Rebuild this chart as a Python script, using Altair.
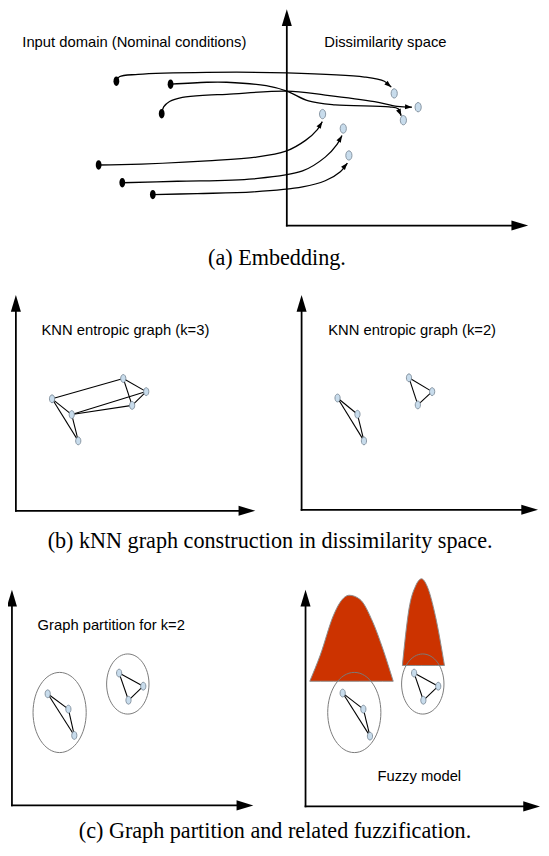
import math
import altair as alt
import pandas as pd

# ---------------- data (reference pixel coordinates) ----------------
# panel (a): embedding
src_x = [118, 173, 164, 100, 124, 155]
src_y = [76, 79, 109, 161, 179, 191]
dst_x = [400, 424.3, 409.3, 327.3, 348.3, 354]
dst_y = [88.3, 102.3, 115.5, 109.3, 124, 151.3]

curve_x = [
    [118, 121, 140, 210, 291, 370, 390, 397],
    [173, 210, 230, 270, 291, 313, 340, 395, 404, 407],
    [164, 166, 172, 185, 210, 230, 291, 330, 380, 403, 418],
    [100, 123, 210, 260, 290, 310, 322, 327],
    [124, 180, 257, 307, 330, 342, 347],
    [155, 200, 257, 307, 330, 345, 352.5],
]
curve_y = [
    [76, 71.5, 69, 67, 67.5, 71.7, 76, 82],
    [79, 77, 77, 80.5, 86, 96, 100, 102, 104, 111],
    [109, 102, 96.5, 92.3, 90, 89.3, 86, 90, 96.7, 101.5, 102.3],
    [161, 160.7, 156.7, 153, 147, 136, 125, 117],
    [179, 177.5, 175, 167, 153, 140, 131],
    [191, 190, 188.3, 183.3, 177, 168, 159],
]

# coordinate axes of the five panels
axis_ox = [291, 16, 306, 12, 310]
axis_oy = [222.5, 512, 511, 811, 812]
axis_top = [3, 293, 293, 592, 592]
axis_right = [536, 259, 546, 257, 548]

# graph nodes
knn3_x = [52.7, 125, 148.3, 134, 72.7, 79.3]
knn3_y = [398.3, 377.7, 391, 405, 414.3, 441]
knn3_edges = [(0, 1), (0, 4), (0, 5), (4, 5), (4, 2), (4, 3), (1, 2), (1, 3), (2, 3)]

knn2_x = [342.5, 415, 438.5, 424, 362.7, 369.3]
knn2_y = [397.5, 377, 391, 404.5, 414, 441]
pair_edges = [(0, 4), (0, 5), (4, 5), (1, 2), (1, 3), (2, 3)]

part_x = [48.3, 120.8, 145.3, 130.3, 69.3, 75.3]
part_y = [697.7, 676.7, 690, 704.3, 713.3, 740]

fuzzy_x = [347.7, 420.2, 444.7, 429.6, 368.7, 375.4]
fuzzy_y = [697, 676.7, 690, 704.3, 713.3, 740.7]

# cluster outlines (big / small)
big_cl_x = [60.4, 359.5]
big_cl_y = [716.7, 716.7]
small_cl_x = [129.6, 429]
small_cl_y = [687.8, 687.8]

# fuzzy membership hills
hill1_x = [314.3, 325, 338.3, 345, 354.3, 365, 378.3, 388.3, 399]
hill1_y = [685, 658.3, 618.3, 605, 597.7, 601.7, 625, 651.7, 685]
hill1_base = 685
hill2_x = [408.3, 415, 421.7, 427.7, 433.3, 441.7, 451]
hill2_y = [669, 611.7, 588.3, 581, 588.3, 618.3, 669]
hill2_base = 669

labels = ["Input domain (Nominal conditions)", "Dissimilarity space",
          "KNN entropic graph (k=3)", "KNN entropic graph (k=2)",
          "Graph partition for k=2", "Fuzzy model"]
label_x = [22.5, 329, 42, 333, 38, 383]
label_y = [41, 41, 334, 334, 633, 786]

captions = ["(a)  Embedding.",
            "(b)  kNN graph construction in dissimilarity space.",
            "(c)  Graph partition and related fuzzification."]
caption_x = [281, 274, 279]
caption_y = [262, 550, 844]

# ---------------- tables ----------------
rows = []
for ci, (xs_, ys_) in enumerate(zip(curve_x, curve_y)):
    for i, (x, y) in enumerate(zip(xs_, ys_)):
        rows.append({"c": ci, "i": i, "x": x, "y": y})
curves = pd.DataFrame(rows)


def heading(x0, y0, x1, y1):
    return math.degrees(math.atan2(x1 - x0, -(y1 - y0))) % 360


curve_tips = pd.DataFrame([
    {"x": xs_[-1], "y": ys_[-1], "ang": heading(xs_[-2], ys_[-2], xs_[-1], ys_[-1])}
    for xs_, ys_ in zip(curve_x, curve_y)
])

src = pd.DataFrame({"x": src_x, "y": src_y})
dst = pd.DataFrame({"x": dst_x, "y": dst_y})
nodes = pd.DataFrame({
    "x": knn3_x + knn2_x + part_x + fuzzy_x,
    "y": knn3_y + knn2_y + part_y + fuzzy_y,
})

seg = []
for ox, oy, top, right in zip(axis_ox, axis_oy, axis_top, axis_right):
    seg.append({"x": ox, "y": oy + 0.9, "x2": ox, "y2": top + 10})
    seg.append({"x": ox - 0.9, "y": oy, "x2": right - 10, "y2": oy})
axis_seg = pd.DataFrame(seg)

tips = []
for ox, oy, top, right in zip(axis_ox, axis_oy, axis_top, axis_right):
    tips.append({"x": ox, "y": top, "ang": 0})
    tips.append({"x": right, "y": oy, "ang": 90})
axis_tips = pd.DataFrame(tips)

edges = []
for gx, gy, el in [(knn3_x, knn3_y, knn3_edges), (knn2_x, knn2_y, pair_edges),
                   (part_x, part_y, pair_edges), (fuzzy_x, fuzzy_y, pair_edges)]:
    for a, b in el:
        edges.append({"x": gx[a], "y": gy[a], "x2": gx[b], "y2": gy[b]})
edges = pd.DataFrame(edges)

hills = pd.DataFrame(
    [{"h": 1, "x": x, "y": y, "b": hill1_base} for x, y in zip(hill1_x, hill1_y)] +
    [{"h": 2, "x": x, "y": y, "b": hill2_base} for x, y in zip(hill2_x, hill2_y)]
)

big_cl = pd.DataFrame({"x": big_cl_x, "y": big_cl_y})
small_cl = pd.DataFrame({"x": small_cl_x, "y": small_cl_y})
lab = pd.DataFrame({"t": labels, "x": label_x, "y": label_y})
cap = pd.DataFrame({"t": captions, "x": caption_x, "y": caption_y})

# ---------------- encodings ----------------
XS = alt.Scale(domain=[8, 549], nice=False, zero=False)
YS = alt.Scale(domain=[8, 856], nice=False, zero=False, reverse=True)
X = alt.X("x:Q", scale=XS, axis=None)
Y = alt.Y("y:Q", scale=YS, axis=None)


def ellipse(a):
    k = 0.5523
    return (f"M0,-1C{k*a:.3f},-1 {a:.3f},{-k:.3f} {a:.3f},0"
            f"C{a:.3f},{k:.3f} {k*a:.3f},1 0,1"
            f"C{-k*a:.3f},1 {-a:.3f},{k:.3f} {-a:.3f},0"
            f"C{-a:.3f},{-k:.3f} {-k*a:.3f},-1 0,-1Z")


BIG_ARROW = "M0,0L0.3,1L-0.3,1Z"
SMALL_ARROW = "M0,0L0.36,1L-0.36,1Z"

hill_layer = alt.Chart(hills).mark_area(
    color="#CC3300", stroke="#8c8c8c", strokeWidth=1, interpolate="monotone", opacity=1
).encode(x=X, y=Y, y2="b:Q", detail="h:N")

big_layer = alt.Chart(big_cl).mark_point(
    shape=ellipse(0.663), size=81.4 ** 2, filled=False, color="#7a7a7a", strokeWidth=1, opacity=1
).encode(x=X, y=Y)
small_layer = alt.Chart(small_cl).mark_point(
    shape=ellipse(0.705), size=61 ** 2, filled=False, color="#7a7a7a", strokeWidth=1, opacity=1
).encode(x=X, y=Y)

curve_layer = alt.Chart(curves).mark_line(
    color="black", strokeWidth=1.3, interpolate="catmull-rom"
).encode(x=X, y=Y, detail="c:N", order="i:Q")

curve_tip_layer = alt.Chart(curve_tips).mark_point(
    shape=SMALL_ARROW, size=196, filled=True, color="black", strokeWidth=0, opacity=1
).encode(x=X, y=Y, angle=alt.Angle("ang:Q", scale=None))

edge_layer = alt.Chart(edges).mark_rule(color="black", strokeWidth=1.1).encode(
    x=X, y=Y, x2="x2:Q", y2="y2:Q")

src_layer = alt.Chart(src).mark_point(
    shape=ellipse(0.62), size=90, filled=True, color="black", strokeWidth=0, opacity=1
).encode(x=X, y=Y)

dst_layer = alt.Chart(dst).mark_point(
    shape=ellipse(0.66), size=90, filled=True, fill="#C8DCEC", stroke="#7d8b99",
    strokeWidth=0.9, opacity=1
).encode(x=X, y=Y)

node_layer = alt.Chart(nodes).mark_point(
    shape=ellipse(0.66), size=64, filled=True, fill="#C8DCEC", stroke="#7d8b99",
    strokeWidth=0.9, opacity=1
).encode(x=X, y=Y)

axis_layer = alt.Chart(axis_seg).mark_rule(color="black", strokeWidth=1.8).encode(
    x=X, y=Y, x2="x2:Q", y2="y2:Q")

axis_tip_layer = alt.Chart(axis_tips).mark_point(
    shape=BIG_ARROW, size=1156, filled=True, color="black", strokeWidth=0, opacity=1
).encode(x=X, y=Y, angle=alt.Angle("ang:Q", scale=None))

label_layer = alt.Chart(lab).mark_text(
    align="left", baseline="alphabetic", font="Liberation Sans", fontSize=15, color="black"
).encode(x=X, y=Y, text="t:N")

cap_layer = alt.Chart(cap).mark_text(
    align="center", baseline="alphabetic", font="Liberation Serif", fontSize=22.5, color="black"
).encode(x=X, y=Y, text="t:N")

chart = alt.layer(
    hill_layer, big_layer, small_layer, curve_layer, curve_tip_layer, edge_layer,
    src_layer, dst_layer, node_layer, axis_layer, axis_tip_layer, label_layer, cap_layer
).properties(
    width=541, height=848, padding=0,
    autosize=alt.AutoSizeParams(type="none"),
).configure_view(stroke=None)

chart.save("out.html", embed_options={"renderer": "svg", "actions": False})
